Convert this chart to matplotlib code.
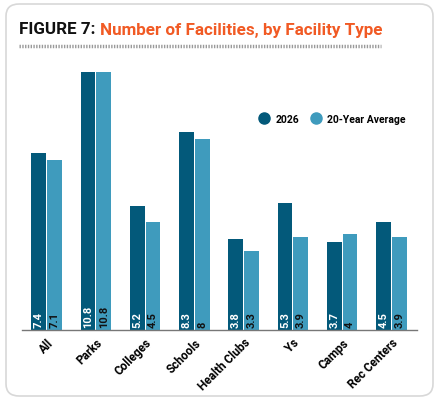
import matplotlib
matplotlib.use("Agg")
from matplotlib import pyplot as plt
from matplotlib.patches import FancyBboxPatch
from matplotlib.lines import Line2D
import numpy as np

categories = ['All', 'Parks', 'Colleges', 'Schools', 'Health Clubs', 'Ys', 'Camps', 'Rec Centers']
values_2026 = [7.4, 10.8, 5.2, 8.3, 3.8, 5.3, 3.7, 4.5]
values_avg = [7.1, 10.8, 4.5, 8, 3.3, 3.9, 4, 3.9]
labels_2026 = ['7.4', '10.8', '5.2', '8.3', '3.8', '5.3', '3.7', '4.5']
labels_avg = ['7.1', '10.8', '4.5', '8', '3.3', '3.9', '4', '3.9']

dark = '#03597a'
light = '#3f9bbd'
orange = '#f15a24'

plt.rcParams['font.family'] = ['Roboto', 'DejaVu Sans']

fig = plt.figure(figsize=(4.4, 4.02), dpi=100)

# rounded frame, behind everything
frame = FancyBboxPatch((6 / 440, 5 / 402), 427 / 440, 392 / 402,
                       boxstyle="round,pad=0,rounding_size=0.03",
                       transform=fig.transFigure, facecolor='none',
                       edgecolor='#d8d8d8', linewidth=1.2, zorder=-5)
fig.add_artist(frame)

# title in two colours, sized to fit the reference width
fig.canvas.draw()
renderer = fig.canvas.get_renderer()
size = 13
for _ in range(3):
    t1 = fig.text(19 / 440, 1 - 30 / 402, 'FIGURE 7: ', fontsize=size, fontweight='bold',
                  color='#111111', va='center')
    w1 = t1.get_window_extent(renderer).width
    t2 = fig.text((19 + w1) / 440, 1 - 30 / 402, 'Number of Facilities, by Facility Type',
                  fontsize=size, fontweight='bold', color=orange, va='center')
    w2 = t2.get_window_extent(renderer).width
    total = w1 + w2
    if abs(total - 362) < 2:
        break
    t1.remove()
    t2.remove()
    size = size * 362 / total

fig.add_artist(Line2D([19 / 440, 381 / 440], [1 - 47 / 402, 1 - 47 / 402],
                      transform=fig.transFigure, color='#9a9a9a', linewidth=2.5,
                      linestyle=(0, (0.4, 0.4))))

ax = fig.add_axes([22 / 440, 1 - 331 / 402, 395 / 440, 263 / 402])
ax.patch.set_visible(False)
x = np.arange(len(categories))
w = 0.3
b1 = ax.bar(x - w / 2 - 0.01, values_2026, w, color=dark, label='2026')
b2 = ax.bar(x + w / 2 + 0.01, values_avg, w, color=light, label='20-Year Average')

for rect, lab in zip(b1, labels_2026):
    ax.text(rect.get_x() + rect.get_width() / 2, 0.12, lab, rotation=90,
            ha='center', va='bottom', color='white', fontsize=8, fontweight='bold')
for rect, lab in zip(b2, labels_avg):
    ax.text(rect.get_x() + rect.get_width() / 2, 0.12, lab, rotation=90,
            ha='center', va='bottom', color='#111111', fontsize=8, fontweight='bold')

ax.set_xlim(-0.5, 7.52)
ax.set_ylim(0, 11)
ax.set_yticks([])
ax.set_xticks(x)
ax.set_xticklabels(categories, rotation=45, ha='right', rotation_mode='anchor',
                   fontsize=8.5, fontweight='bold')
ax.tick_params(axis='x', length=0, pad=4)
for s in ['top', 'right', 'left']:
    ax.spines[s].set_visible(False)
ax.spines['bottom'].set_color('#777777')
ax.spines['bottom'].set_linewidth(1)

handles = [Line2D([], [], marker='o', linestyle='', markersize=8, color=dark),
           Line2D([], [], marker='o', linestyle='', markersize=8, color=light)]
ax.legend(handles, ['2026', '20-Year Average'], loc='upper right', ncol=2, frameon=False,
          prop={'weight': 'bold', 'size': 7.5}, handletextpad=0.1, columnspacing=0.6,
          bbox_to_anchor=(0.995, 0.857))

fig.savefig('out.png', dpi=100)
